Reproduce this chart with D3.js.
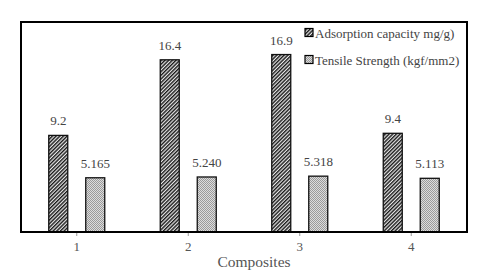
<!DOCTYPE html>
<html><head><meta charset="utf-8">
<script src="https://cdn.jsdelivr.net/npm/d3@7"></script>
<style>body{margin:0;background:#fff}svg{display:block}text{font-family:"Liberation Serif","Times New Roman",Times,serif}</style>
</head><body><div id="c"></div>
<script>
const categories = ["1","2","3","4"];
const adsorption = [9.2, 16.4, 16.9, 9.4];
const tensile = [5.165, 5.240, 5.318, 5.113];
const adsorptionLabels = ["9.2","16.4","16.9","9.4"];
const tensileLabels = ["5.165","5.240","5.318","5.113"];
const seriesNames = ["Adsorption capacity mg/g)","Tensile Strength (kgf/mm2)"];
const yDomain = [0, 20];

const W = 480, H = 277;
const m = {l:21, r:13, t:22, b:45};
const svg = d3.select("#c").append("svg").attr("width",W).attr("height",H);
const defs = svg.append("defs");
const p1 = defs.append("pattern").attr("id","hatch").attr("patternUnits","userSpaceOnUse")
  .attr("width",2.6).attr("height",2.6).attr("patternTransform","rotate(45)");
p1.append("rect").attr("width",2.6).attr("height",2.6).attr("fill","#e8e8e8");
p1.append("rect").attr("width",1.4).attr("height",2.6).attr("fill","#1a1a1a");
const p2 = defs.append("pattern").attr("id","dots").attr("patternUnits","userSpaceOnUse")
  .attr("width",2).attr("height",2);
p2.append("rect").attr("width",2).attr("height",2).attr("fill","#dcdcdc");
p2.append("rect").attr("width",1).attr("height",1).attr("fill","#9a9a9a");
p2.append("rect").attr("x",1).attr("y",1).attr("width",1).attr("height",1).attr("fill","#9a9a9a");

const x = d3.scaleBand().domain(categories).range([m.l, W-m.r]);
const y = d3.scaleLinear().domain(yDomain).range([H-m.b, m.t]);
const bw = 19, off = 18.5;

const g = svg.append("g");
categories.forEach((c,i)=>{
  const cx = x(c) + x.bandwidth()/2;
  g.append("rect").attr("x",cx-off-bw/2).attr("y",y(adsorption[i])).attr("width",bw)
    .attr("height",y(0)-y(adsorption[i])).attr("fill","url(#hatch)").attr("stroke","#111").attr("stroke-width",1.3);
  g.append("rect").attr("x",cx+off-bw/2).attr("y",y(tensile[i])).attr("width",bw)
    .attr("height",y(0)-y(tensile[i])).attr("fill","url(#dots)").attr("stroke","#111").attr("stroke-width",1.3);
  g.append("text").attr("x",cx-off).attr("y",y(adsorption[i])-10).attr("text-anchor","middle")
    .style("font-size","13px").attr("fill","#444").text(adsorptionLabels[i]);
  g.append("text").attr("x",cx+off).attr("y",y(tensile[i])-10).attr("text-anchor","middle")
    .style("font-size","13px").attr("fill","#444").text(tensileLabels[i]);
});

svg.append("rect").attr("x",m.l).attr("y",m.t).attr("width",W-m.r-m.l).attr("height",H-m.b-m.t)
  .attr("fill","none").attr("stroke","#000").attr("stroke-width",2);

const xa = svg.append("g").attr("transform",`translate(0,${H-m.b+1})`)
  .call(d3.axisBottom(x).tickSize(3).tickPadding(6));
xa.select(".domain").remove();
xa.selectAll(".tick line").attr("stroke","#999");
xa.selectAll(".tick text").attr("font-family",null).style("font-size","13px").attr("fill","#555");

svg.append("text").attr("x",(m.l+W-m.r)/2+10).attr("y",267).attr("text-anchor","middle")
  .style("font-size","15.5px").attr("fill","#555").text("Composites");

const fills = ["url(#hatch)","url(#dots)"];
seriesNames.forEach((n,i)=>{
  const ly = 33 + i*27;
  svg.append("rect").attr("x",305).attr("y",ly-4.5).attr("width",8).attr("height",8)
    .attr("fill",fills[i]).attr("stroke","#000").attr("stroke-width",1.2);
  svg.append("text").attr("x",315).attr("y",ly+4.5)
    .style("font-size","13px").attr("fill","#444").text(n);
});
</script></body></html>
